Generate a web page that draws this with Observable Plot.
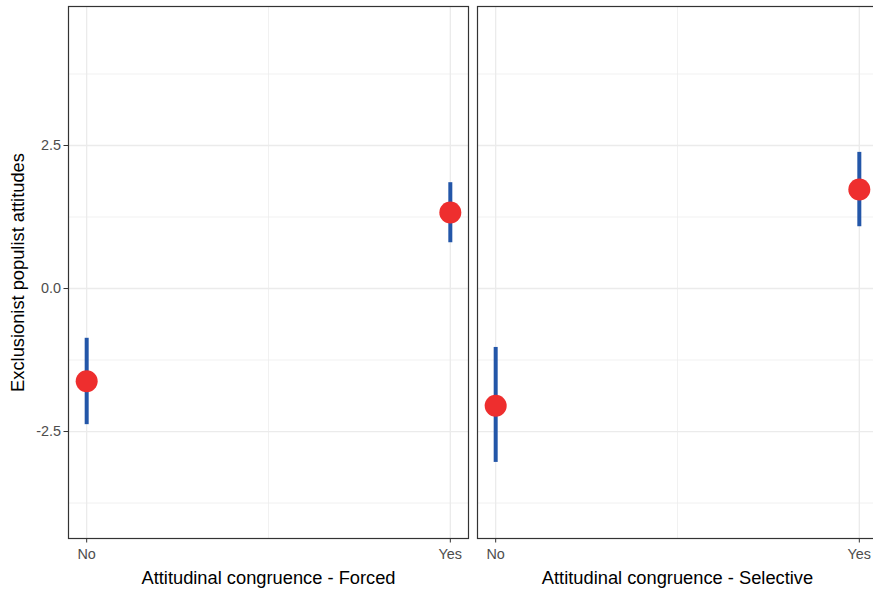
<!DOCTYPE html>
<html>
<head>
<meta charset="utf-8">
<script src="https://cdn.jsdelivr.net/npm/d3@7"></script>
<script src="https://cdn.jsdelivr.net/npm/@observablehq/plot@0.6"></script>
<style>
  html, body { margin: 0; padding: 0; overflow: hidden; background: white; }
  #chart { width: 873px; height: 589px; overflow: hidden; }
</style>
</head>
<body>
<div id="chart"></div>
<script>
// ---- data ----
const panels = ["Forced", "Selective"];
const panelTitles = ["Attitudinal congruence - Forced", "Attitudinal congruence - Selective"];
const congruence = ["No", "Yes"];
const forcedEst = [-1.62, 1.33];
const forcedLow = [-2.38, 0.80];
const forcedHigh = [-0.87, 1.85];
const selectiveEst = [-2.05, 1.73];
const selectiveLow = [-3.04, 1.08];
const selectiveHigh = [-1.03, 2.38];
const yMajor = [-2.5, 0, 2.5];
const yMinor = [-3.75, -1.25, 1.25, 3.75];
const xMajor = [0, 1];
const xMinor = [0.5];
const yTitle = "Exclusionist populist attitudes";

const rows = [];
congruence.forEach((c, i) => {
  rows.push({panel: "Forced", xi: i, est: forcedEst[i], low: forcedLow[i], high: forcedHigh[i]});
  rows.push({panel: "Selective", xi: i, est: selectiveEst[i], low: selectiveLow[i], high: selectiveHigh[i]});
});

const grid = "#ebebeb";
const font = "Liberation Sans, Arial, Helvetica, sans-serif";

const chart = Plot.plot({
  width: 877,
  height: 589,
  marginLeft: 68,
  marginRight: 0,
  marginTop: 6,
  marginBottom: 51,
  style: {fontFamily: font, fontSize: "14.4px", background: "white"},
  fx: {domain: panels, paddingInner: 9 / 409, paddingOuter: 0, axis: null},
  x: {domain: [-0.05, 1.05], axis: null},
  y: {domain: [-4.37, 4.93], axis: null},
  marks: [
    Plot.ruleY(yMinor, {stroke: grid, strokeWidth: 0.7}),
    Plot.ruleX(xMinor, {stroke: grid, strokeWidth: 0.7}),
    Plot.ruleY(yMajor, {stroke: grid, strokeWidth: 1.3}),
    Plot.ruleX(xMajor, {stroke: grid, strokeWidth: 1.3}),
    Plot.frame({stroke: "#333333", strokeWidth: 1.2}),
    Plot.ruleX(rows, {fx: "panel", x: "xi", y1: "low", y2: "high", stroke: "#2356a8", strokeWidth: 4}),
    Plot.dot(rows, {fx: "panel", x: "xi", y: "est", r: 11, fill: "#ee2e2e", stroke: null}),
    Plot.axisY({ticks: yMajor, tickFormat: d => d.toFixed(1), tickSize: 4.5, tickPadding: 3,
      fontSize: 14.4, stroke: "#333333", fill: "#4d4d4d", label: null}),
    Plot.axisX({ticks: xMajor, tickFormat: i => congruence[i], tickSize: 4.5, tickPadding: 6,
      fontSize: 14.4, stroke: "#333333", fill: "#4d4d4d", label: null}),
    Plot.text(panels, {fx: d => d, text: (d, i) => panelTitles[i], frameAnchor: "bottom", dy: 40,
      lineAnchor: "middle", fontSize: 18.3, fill: "black"}),
    Plot.text([yTitle], {fx: ["Forced"], text: d => d, frameAnchor: "left", rotate: -90, dx: -50,
      textAnchor: "middle", lineAnchor: "middle", fontSize: 18.3, fill: "black"})
  ]
});
chart.style.maxWidth = "none";
document.getElementById("chart").appendChild(chart);
</script>
</body>
</html>
